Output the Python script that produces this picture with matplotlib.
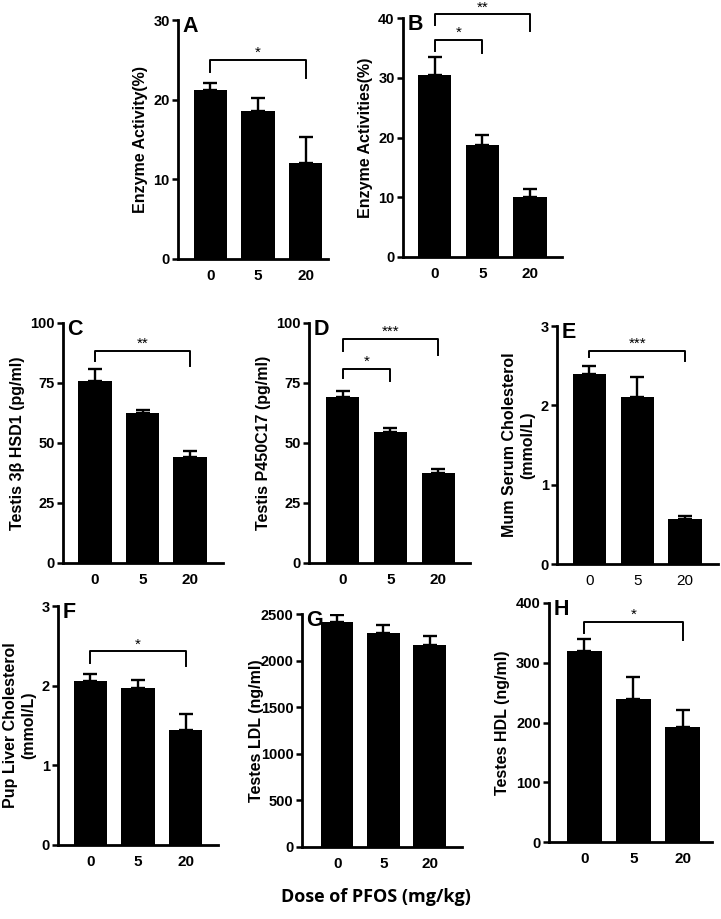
import numpy as np
import matplotlib
matplotlib.use('Agg')
import matplotlib.pyplot as plt

plt.rcParams['font.family'] = ['Liberation Sans', 'DejaVu Sans']

# dose groups (mg/kg)
doses = ['0', '5', '20']

# panel values: mean and upper error (SEM)
enzA = [21.2, 18.6, 12.1]
enzA_err = [0.9, 1.6, 3.2]
enzB = [30.4, 18.7, 10.1]
enzB_err = [3.1, 1.7, 1.3]
hsd = [75.8, 62.6, 44.0]
hsd_err = [5.2, 1.3, 2.8]
p450 = [69.0, 54.5, 37.7]
p450_err = [2.8, 1.6, 1.3]
mum_chol = [2.39, 2.11, 0.57]
mum_chol_err = [0.10, 0.25, 0.04]
pup_chol = [2.06, 1.97, 1.44]
pup_chol_err = [0.09, 0.10, 0.20]
ldl = [2414, 2296, 2170]
ldl_err = [80, 90, 98]
hdl = [320, 239, 193]
hdl_err = [19, 37, 28]

W, H = 721, 919
fig = plt.figure(figsize=(W / 100, H / 100), dpi=100)

def px_axes(xl, xr, yb, yt):
    return fig.add_axes([xl / W, 1 - yb / H, (xr - xl) / W, (yb - yt) / H])

def panel(rect, xlim, vals, errs, ylim, yticks, ylabel, letter,
          brackets=(), bold_x=True, labelpad=4):
    ax = px_axes(*rect)
    x = np.arange(len(vals))
    ax.bar(x, vals, width=0.7, color='black', zorder=2)
    ax.errorbar(x, vals, yerr=[np.zeros(len(errs)), errs], fmt='none',
                ecolor='black', elinewidth=1.7, capsize=5, capthick=1.7, zorder=1)
    ax.set_xlim(*xlim)
    ax.set_ylim(*ylim)
    ax.set_yticks(yticks)
    ax.set_yticklabels([str(t) for t in yticks], fontweight='bold', fontsize=10.5)
    ax.set_xticks(x)
    ax.set_xticklabels(doses, fontweight='bold' if bold_x else 'normal', fontsize=11)
    ax.tick_params(axis='x', length=0, pad=7)
    ax.tick_params(axis='y', length=4, width=1.8, pad=2)
    for s in ['top', 'right']:
        ax.spines[s].set_visible(False)
    for s in ['left', 'bottom']:
        ax.spines[s].set_linewidth(2.0)
    ax.set_ylabel(ylabel, fontweight='bold', fontsize=11.5, labelpad=labelpad)
    ax.annotate(letter, xy=(0, 1), xycoords='axes fraction', xytext=(3, 3),
                textcoords='offset points', ha='left', va='top',
                fontsize=15.5, fontweight='bold')
    for (i, j, yb, yl, yr, star) in brackets:
        ax.plot([i, i, j, j], [yl, yb, yb, yr], color='black', lw=1.4,
                clip_on=False, zorder=3)
        ax.text((i + j) / 2, yb, star, ha='center', va='bottom', fontsize=11,
                clip_on=False)
    return ax

panel((178, 328, 259, 20), (-0.68, 2.47), enzA, enzA_err, (0, 30), [0, 10, 20, 30],
      'Enzyme Activity(%)', 'A', brackets=[(0, 2, 25.0, 23.5, 22.7, '*')])
panel((403, 562, 257, 18), (-0.66, 2.67), enzB, enzB_err, (0, 40), [0, 10, 20, 30, 40],
      'Enzyme Activities(%)', 'B',
      brackets=[(0, 1, 36.4, 34.4, 34.1, '*'), (0, 2, 40.6, 38.9, 37.9, '**')])
panel((63, 223, 563, 323), (-0.67, 2.69), hsd, hsd_err, (0, 100), [0, 25, 50, 75, 100],
      'Testis 3\u03b2 HSD1 (pg/ml)', 'C', brackets=[(0, 2, 88.5, 84, 82, '**')])
panel((309, 470, 563, 323), (-0.70, 2.66), p450, p450_err, (0, 100), [0, 25, 50, 75, 100],
      'Testis P450C17 (pg/ml)', 'D',
      brackets=[(0, 1, 80.8, 77, 76, '*'), (0, 2, 93.3, 88.2, 86.8, '***')])
panel((557, 718, 564, 326), (-0.68, 2.69), mum_chol, mum_chol_err, (0, 3), [0, 1, 2, 3],
      'Mum Serum Cholesterol\n(mmol/L)', 'E', bold_x=False,
      brackets=[(0, 2, 2.69, 2.61, 2.56, '***')])
panel((58, 218, 845, 606), (-0.68, 2.68), pup_chol, pup_chol_err, (0, 3), [0, 1, 2, 3],
      'Pup Liver Cholesterol\n(mmol/L)', 'F',
      brackets=[(0, 2, 2.43, 2.28, 2.25, '*')])
panel((302, 462, 847, 614), (-0.76, 2.70), ldl, ldl_err, (0, 2500),
      [0, 500, 1000, 1500, 2000, 2500], 'Testes LDL (ng/ml)', 'G', labelpad=-2)
panel((549, 712, 842, 603), (-0.72, 2.60), hdl, hdl_err, (0, 400), [0, 100, 200, 300, 400],
      'Testes HDL (ng/ml)', 'H', brackets=[(0, 2, 369, 350, 338, '*')])

fig.text(376 / W, 1 - 897 / H, 'Dose of PFOS (mg/kg)', ha='center', va='center',
         fontsize=13, fontweight='bold', family=['Open Sans', 'DejaVu Sans'])

fig.savefig('out.png', dpi=100)
